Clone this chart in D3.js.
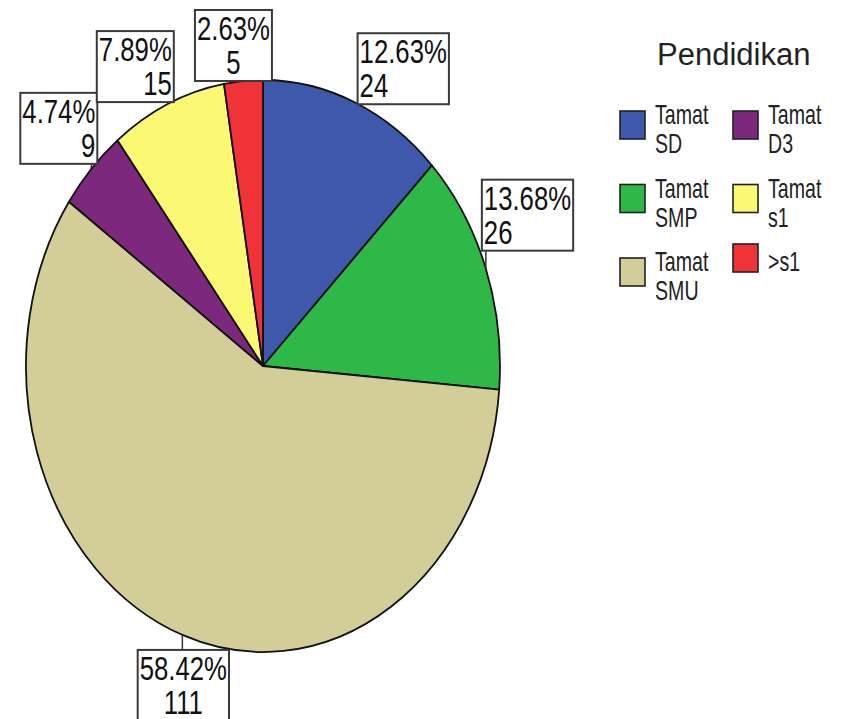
<!DOCTYPE html>
<html><head><meta charset="utf-8">
<script src="https://cdn.jsdelivr.net/npm/d3@7"></script>
<style>html,body{margin:0;padding:0;background:#fff;}svg{display:block;}</style>
</head><body>
<svg id="chart" width="842" height="719"></svg>
<script>
// ---- data ----
const categories = ["Tamat SD", "Tamat SMP", "Tamat SMU", "Tamat D3", "Tamat s1", ">s1"];
const counts = [24, 26, 111, 9, 15, 5];
const colors = ["#3E58AC", "#2EB848", "#D3CE97", "#7C287D", "#FBF873", "#EF3338"];
const legendTitle = "Pendidikan";

// ---- layout ----
const W = 842, H = 719;
const cx = 263, cy = 366, rx = 237, ry = 286, R = 100;
const font = "'Liberation Sans', Arial, sans-serif";
const labelFont = 33, labelSX = 0.78, labelLine = 34;
// small nudges of label boxes from their rule-based anchor [dx, dy]
const labelNudge = [[3, 2], [-4, -18], [1, 15], [6, -5], [6, -2], [-10, 0]];

const svg = d3.select("#chart");
const total = d3.sum(counts);
const pct = d3.format(".2%");

const pie = d3.pie().sort(null).value(d => d);
const arcs = pie(counts);
const arc = d3.arc().innerRadius(0).outerRadius(R);

const g = svg.append("g").attr("transform", `translate(${cx},${cy}) scale(${rx / R},${ry / R})`);
g.selectAll("path").data(arcs).join("path")
  .attr("d", arc)
  .attr("fill", (d, i) => colors[i])
  .attr("stroke", "#111")
  .attr("stroke-width", 1.8)
  .attr("vector-effect", "non-scaling-stroke")
  .attr("stroke-linejoin", "round");

// ---- labels ----
const lg = svg.append("g");
arcs.forEach((d, i) => {
  const a = (d.startAngle + d.endAngle) / 2;
  const s = Math.sin(a), c = Math.cos(a);
  const P = [cx + rx * s, cy - ry * c];
  const lines = [pct(counts[i] / total), String(counts[i])];
  let mode;
  if (c < -0.6) mode = "bottom";
  else if (Math.abs(s) < 0.15) mode = "top";
  else mode = s > 0 ? "right" : "left";
  const align = mode === "right" ? "start" : mode === "left" ? "end" : "middle";

  const grp = lg.append("g");
  const texts = lines.map(t => grp.append("text").text(t)
    .attr("font-family", font).attr("font-size", labelFont).attr("fill", "#111")
    .attr("text-anchor", align));
  const tw = d3.max(texts, t => t.node().getComputedTextLength()) * labelSX;
  const bw = tw + 4, bh = 71;
  const ax = P[0] + labelNudge[i][0], ay = P[1] + labelNudge[i][1];
  let bx, by;
  if (mode === "right") { bx = ax; by = ay - bh; }
  else if (mode === "left") { bx = ax - bw; by = ay - bh; }
  else if (mode === "top") { bx = ax - bw / 2; by = ay - bh; }
  else { bx = ax - bw / 2; by = ay; }

  // leader
  const nx = Math.max(bx, Math.min(P[0], bx + bw)), ny = Math.max(by, Math.min(P[1], by + bh));
  if (Math.hypot(nx - P[0], ny - P[1]) > 3) {
    lg.insert("line", ":first-child").attr("x1", P[0]).attr("y1", P[1]).attr("x2", nx).attr("y2", ny)
      .attr("stroke", "#333").attr("stroke-width", 1.5);
  }
  grp.insert("rect", ":first-child").attr("x", bx).attr("y", by).attr("width", bw).attr("height", bh)
    .attr("fill", "#fff").attr("stroke", "#3a3a3a").attr("stroke-width", 2);
  const tx = align === "start" ? bx + 2 : align === "end" ? bx + bw - 2 : bx + bw / 2;
  texts.forEach((t, k) => t.attr("transform", `translate(${tx},${by + 30 + k * labelLine}) scale(${labelSX},1)`));
});

// ---- legend ----
const leg = svg.append("g");
leg.append("text").text(legendTitle).attr("x", 657).attr("y", 65)
  .attr("font-family", font).attr("font-size", 31).attr("fill", "#222");
const legSX = 0.7, legFont = 28, legLine = 29, rowStep = 73.5;
categories.forEach((name, i) => {
  const col = Math.floor(i / 3), row = i % 3;
  const sx = 620 + col * 113, tx = 655 + col * 113;
  const b1 = 124 + row * rowStep;
  const parts = name.split(" ");
  const sy = parts.length > 1 ? b1 - 13 : b1 - 27;
  leg.append("rect").attr("x", sx).attr("y", sy).attr("width", 25).attr("height", 28)
    .attr("fill", colors[i]).attr("stroke", "#222").attr("stroke-width", 1.6);
  parts.forEach((p, k) => {
    leg.append("text").text(p)
      .attr("transform", `translate(${tx},${b1 + k * legLine}) scale(${legSX},1)`)
      .attr("font-family", font).attr("font-size", legFont).attr("fill", "#222");
  });
});
</script>
</body></html>
